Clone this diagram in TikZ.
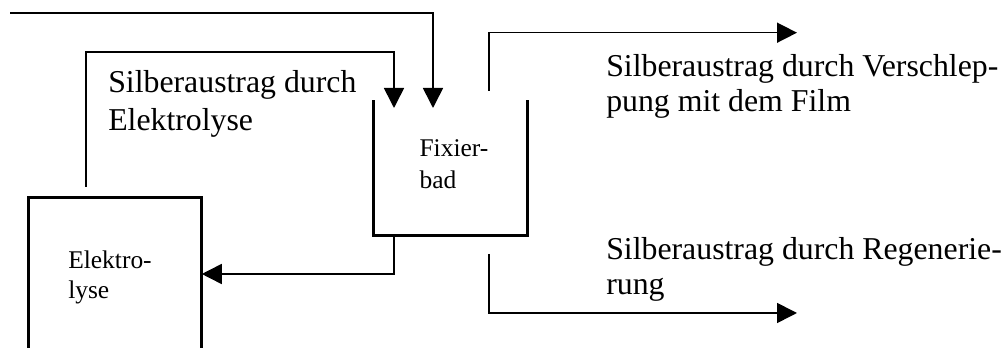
\documentclass[tikz,border=0pt]{standalone}
\usepackage{fontspec}
\setmainfont{Liberation Serif}
\usetikzlibrary{arrows.meta}
\tikzset{
  flow/.style={line width=1.2pt, -{Triangle[length=15pt,width=15pt]}},
  wall/.style={line width=2.5pt, line cap=rect},
  bigtext/.style={anchor=base west, inner sep=0pt, align=left, font=\fontsize{23.85pt}{27pt}\selectfont},
  smalltext/.style={anchor=base west, inner sep=0pt, align=left, font=\fontsize{19.1pt}{23.4pt}\selectfont},
  frame/.style={inner sep=0pt, draw=none}
}
\begin{document}
\begin{tikzpicture}[x=0.75pt,y=-0.75pt]
\useasboundingbox (0,0) rectangle (1008,348);
% vessels
\node[frame, minimum width=114.75pt, minimum height=99.75pt] (fix) at (450.5,168.5) {};
\node[frame, minimum width=129.4pt, minimum height=114pt] (elek) at (115.25,274) {};
\draw[wall] (fix.north west) |- (fix.south east) -- (fix.north east);
\draw[wall] (elek.south west) -- (elek.north west) -- (elek.north east) -- (elek.south east);
% labels (anchored at the baseline of the last line)
\node[smalltext] (fixlab) at (419.3,188.3) {Fixier-\\[0.3pt]bad};
\node[smalltext] (eleklab) at (68,298.3) {Elektro-\\[-0.9pt]lyse};
\node[bigtext] (t1) at (108,130.7) {Silberaustrag durch\\[1.5pt]Elektrolyse};
\node[bigtext] (t2) at (606,111.7) {Silberaustrag durch Verschlep-\\[-0.75pt]pung mit dem Film};
\node[bigtext] (t3) at (606,295) {Silberaustrag durch Regenerie-\\[-0.75pt]rung};
% connectors
\coordinate (s1) at (10,13);
\coordinate (e1) at (433,108);
\draw[flow] (s1) -| (e1);
\coordinate (s2) at (86,187);
\coordinate (c2) at (394,52);
\coordinate (e2) at (394,108);
\draw[flow] (s2) |- (c2) -- (e2);
\coordinate (s3) at (fix.south west -| 394,0);
\draw[flow] (s3) |- (elek.east);
\coordinate (s4) at (489,91);
\coordinate (e4) at (797,32.7);
\draw[flow] (s4) |- (e4);
\coordinate (s5) at (489,254);
\coordinate (e5) at (797,313);
\draw[flow] (s5) |- (e5);
\end{tikzpicture}
\end{document}
